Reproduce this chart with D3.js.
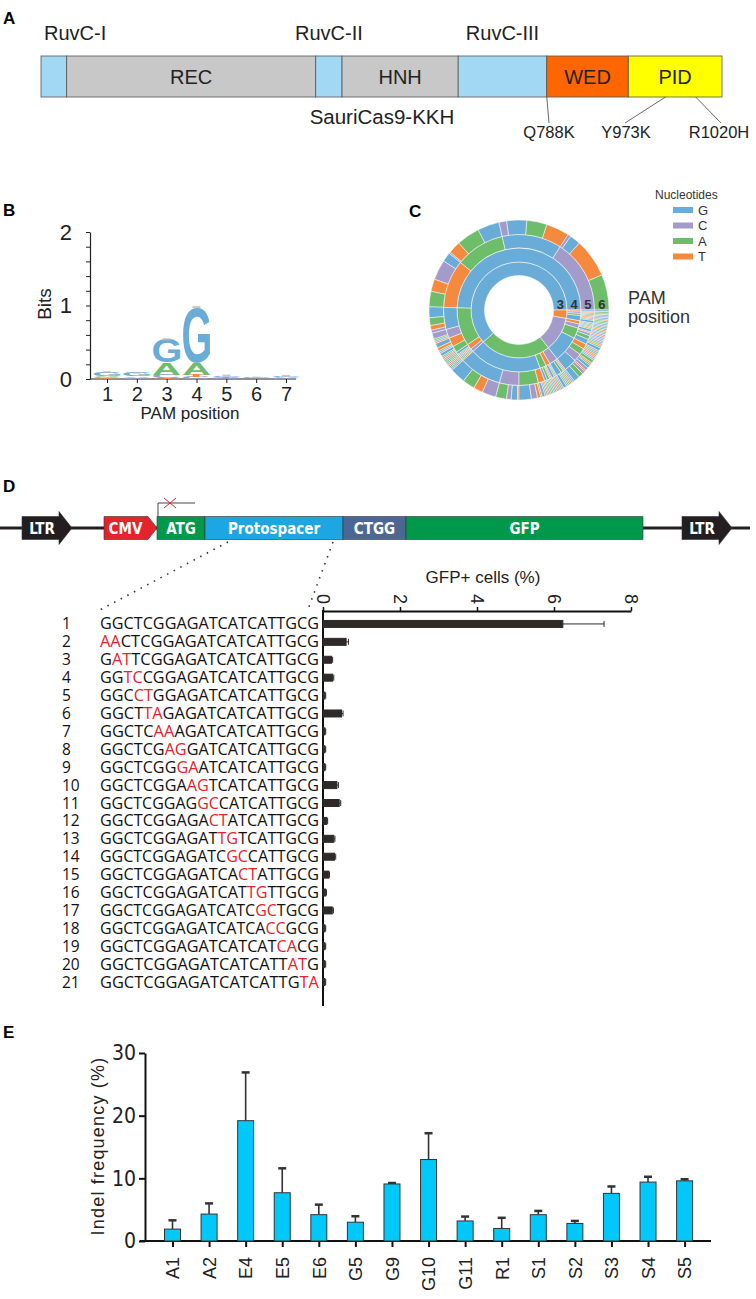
<!DOCTYPE html>
<html>
<head>
<meta charset="utf-8">
<script src="https://cdn.jsdelivr.net/npm/d3@7"></script>
<style>
  body { margin: 0; background: #fff; }
</style>
</head>
<body>
<div id="fig"></div>
<script>
var width = 756,
    height = 1299;

var arial = "'Liberation Sans', Arial, sans-serif",
    narrow = "'Liberation Sans Narrow', 'DejaVu Sans Condensed', sans-serif",
    seqFont = "'Open Sans', 'Noto Sans', sans-serif";

var ntColour = {G: '#69acd8', C: '#a39ccb', A: '#6dbd6a', T: '#f58a3e'};

/* ---------- data ---------- */

// A: domain map (residue ranges, SauriCas9 ~1061 aa)
var domainNames  = ['', 'REC', '', 'HNH', '', 'WED', 'PID'];
var domainStart  = [0, 40, 428, 469, 650, 788, 915];
var domainEnd    = [40, 428, 469, 650, 788, 915, 1061];
var domainFill   = ['#a3d8f4', '#c8c8c8', '#a3d8f4', '#c8c8c8', '#a3d8f4', '#ff6600', '#ffff00'];
var ruvcNames    = ['RuvC-I', 'RuvC-II', 'RuvC-III'];
var ruvcIndex    = [0, 2, 4];
var mutations    = ['Q788K', 'Y973K', 'R1020H'];
var mutationSite = [788, 973, 1020];

// B: sequence logo, bits per nucleotide at PAM positions 1-7
var logoPositions = [1, 2, 3, 4, 5, 6, 7];
var bitsG = [0.05, 0.05, 0.32, 0.76, 0.02, 0.01, 0.02];
var bitsC = [0.015, 0.01, 0.05, 0.03, 0.01, 0.005, 0.01];
var bitsA = [0.02, 0.02, 0.16, 0.16, 0.01, 0.005, 0.01];
var bitsT = [0.01, 0.005, 0.01, 0.03, 0.01, 0.002, 0.005];
var bitsErr = [0.012, 0.012, 0.015, 0.015, 0.01, 0.01, 0.01];

// C: PAM positions 3-6 and their share (degrees of the sunburst)
var pamSeqs = [
  'GGCA','GGCT','GGCG','GGCC', 'GGGT','GGGA','GGGG','GGGC', 'GGAG','GGAA','GGAT','GGAC',
  'GGTG','GGTC','GGTT','GGTA', 'GAGG','GAGA','GAGT','GAGC', 'GACC','GACA','GACG','GACT',
  'GATG','GATT','GATA','GATC', 'GAAG','GAAA','GAAC','GAAT', 'GTGG','GTGA','GTAA','GTCC','GTTT',
  'GCGG','GCAA','GCTC',
  'AGGG','AGGA','AGGT','AGGC', 'AGCA','AGCC','AGCG','AGCT', 'AGAG','AGAC','AGAT','AGAA',
  'AGTC','AGTG','AGTA','AGTT', 'AAGG','AAGA','AAAA','AAAC','AACG','AATT',
  'ATGG','ATGT','ATAA','ATCC', 'ACGG','ACGA','ACGC','ACAA','ACAT','ACCG','ACTG',
  'CGGG','CGGA','CGGC','CGGT','CGCC','CGCG','CGCA','CGCT','CGAA','CGAG','CGAC','CGAT',
  'CGTT','CGTG','CGTA','CGTC', 'CAGG','CAGA','CAGT','CAAA','CAAG','CAAC','CACC','CACG','CATT',
  'CCGG','CCGC','CCAA','CCTT', 'CTGG','CTAA','CTCC',
  'TGGG','TGGA','TGAA','TGCT','TGTG','TAGG','TAAT','TCGC','TCTA','TTGG'];
var pamCounts = [
  23,25,7,2, 15,13,13,5, 14,15,8,1,
  6,13,8,10, 7,5,3,2, 4,1,1,1,
  3,2,1,1, 2,1,1,1, 1,1,1,1,1,
  1,1,1,
  10,8,6,9, 7,3,4,1, 8,4,2,1,
  2,1,1,1, 1,1,1,1,1,1,
  1,1,1,1, 2,1,1,1,1,1,1,
  4,3,2,1,2,2,1,1,2,1,1,1,
  1,1,1,1, 2,1,1,1,1,1,1,1,1,
  1,1,1,1, 1,1,1,
  1,1,1,1,1,1,1,1,1,1];
var nucleotides = ['G', 'C', 'A', 'T'];

// D: reporter construct and GFP+ cells
var partNames  = ['LTR', 'CMV', 'ATG', 'Protospacer', 'CTGG', 'GFP', 'LTR'];
var partStart  = [22, 104, 157, 205, 343, 406, 682];
var partEnd    = [72, 157, 205, 343, 406, 643, 732];
var partFill   = ['#231f20', '#e3242b', '#00994c', '#1ea6e2', '#4d6795', '#00994c', '#231f20'];
var partShape  = ['arrow', 'arrow', 'box', 'box', 'box', 'box', 'arrow'];

var spacers = [
  'GGCTCGGAGATCATCATTGCG', 'AACTCGGAGATCATCATTGCG', 'GATTCGGAGATCATCATTGCG',
  'GGTCCGGAGATCATCATTGCG', 'GGCCTGGAGATCATCATTGCG', 'GGCTTAGAGATCATCATTGCG',
  'GGCTCAAAGATCATCATTGCG', 'GGCTCGAGGATCATCATTGCG', 'GGCTCGGGAATCATCATTGCG',
  'GGCTCGGAAGTCATCATTGCG', 'GGCTCGGAGGCCATCATTGCG', 'GGCTCGGAGACTATCATTGCG',
  'GGCTCGGAGATTGTCATTGCG', 'GGCTCGGAGATCGCCATTGCG', 'GGCTCGGAGATCACTATTGCG',
  'GGCTCGGAGATCATTGTTGCG', 'GGCTCGGAGATCATCGCTGCG', 'GGCTCGGAGATCATCACCGCG',
  'GGCTCGGAGATCATCATCACG', 'GGCTCGGAGATCATCATTATG', 'GGCTCGGAGATCATCATTGTA'];
var gfpMean = [6.23, 0.6, 0.22, 0.25, 0.05, 0.48, 0.05, 0.05, 0.05, 0.36, 0.42,
               0.1, 0.28, 0.3, 0.15, 0.07, 0.24, 0.05, 0.05, 0.05, 0.05];
var gfpErr  = [1.07, 0.06, 0.03, 0.03, 0.02, 0.04, 0.02, 0.02, 0.02, 0.04, 0.04,
               0.02, 0.03, 0.03, 0.02, 0.02, 0.03, 0.02, 0.02, 0.02, 0.02];
var gfpTicks = [0, 2, 4, 6, 8];

// E: indel frequency at endogenous sites
var sites     = ['A1','A2','E4','E5','E6','G5','G9','G10','G11','R1','S1','S2','S3','S4','S5'];
var indelMean = [1.9, 4.3, 19.2, 7.7, 4.2, 3.0, 9.1, 13.0, 3.2, 2.0, 4.2, 2.8, 7.6, 9.4, 9.6];
var indelErr  = [1.4, 1.7, 7.7, 3.9, 1.6, 0.95, 0.15, 4.2, 0.7, 1.7, 0.6, 0.4, 1.1, 0.85, 0.25];

/* ---------- svg ---------- */

var svg = d3.select('#fig').append('svg')
    .attr('width', width)
    .attr('height', height)
    .style('font-family', arial);

svg.append('rect').attr('width', width).attr('height', height).attr('fill', '#fff');

function panelLabel(t, x, y) {
  svg.append('text').attr('x', x).attr('y', y).text(t)
    .attr('font-weight', 'bold').attr('font-size', 17);
}

panelLabel('A', 3, 24);
panelLabel('B', 3, 216);
panelLabel('C', 409, 217);
panelLabel('D', 3, 492);
panelLabel('E', 3, 1038);

/* ---------- A ---------- */

var gA = svg.append('g');
var xRes = d3.scaleLinear().domain([0, 1061]).range([41, 722]);
var barTop = 56, barBot = 97;

gA.selectAll('rect.dom')
  .data(domainNames)
  .join('rect')
    .attr('x', function(d, i) { return xRes(domainStart[i]); })
    .attr('y', barTop)
    .attr('width', function(d, i) { return xRes(domainEnd[i]) - xRes(domainStart[i]); })
    .attr('height', barBot - barTop)
    .attr('fill', function(d, i) { return domainFill[i]; })
    .attr('stroke', '#555')
    .attr('stroke-width', 0.8);

gA.selectAll('text.dom')
  .data(domainNames.filter(function(d) { return d; }))
  .join('text')
    .attr('x', function(d) {
      var i = domainNames.indexOf(d);
      return (xRes(domainStart[i]) + xRes(domainEnd[i])) / 2;
    })
    .attr('y', 84)
    .attr('text-anchor', 'middle')
    .attr('font-size', 20)
    .attr('fill', '#222')
    .text(function(d) { return d; });

gA.selectAll('text.ruvc')
  .data(ruvcNames)
  .join('text')
    .attr('x', function(d, i) {
      var k = ruvcIndex[i];
      return i === 0 ? xRes(domainStart[k]) + 3 : (xRes(domainStart[k]) + xRes(domainEnd[k])) / 2;
    })
    .attr('y', 40)
    .attr('text-anchor', function(d, i) { return i === 0 ? 'start' : 'middle'; })
    .attr('font-size', 20)
    .attr('fill', '#222')
    .text(function(d) { return d; });

gA.append('text')
  .attr('x', 382).attr('y', 124)
  .attr('text-anchor', 'middle')
  .attr('font-size', 20.5)
  .attr('fill', '#222')
  .text('SauriCas9-KKH');

var mutLabelX = [549, 626, 719];
mutations.forEach(function(m, i) {
  var x0 = xRes(mutationSite[i]);
  gA.append('line')
    .attr('x1', x0).attr('y1', barBot)
    .attr('x2', mutLabelX[i] + (i === 1 ? -1 : (i === 2 ? 2 : 0))).attr('y2', 123)
    .attr('stroke', '#444').attr('stroke-width', 0.8);
  gA.append('text')
    .attr('x', mutLabelX[i]).attr('y', 138)
    .attr('text-anchor', 'middle')
    .attr('font-size', 16.5)
    .attr('fill', '#222')
    .text(m);
});

/* ---------- B : sequence logo ---------- */

var gB = svg.append('g');
var xLogo = d3.scalePoint().domain(logoPositions).range([107, 286]);
var yLogo = d3.scaleLinear().domain([0, 2]).range([379, 232]);

gB.append('g')
  .attr('transform', 'translate(90,0)')
  .call(d3.axisLeft(yLogo)
    .tickValues(d3.range(0, 11).map(function(i) { return i * 0.2; }))
    .tickSize(4).tickSizeOuter(0).tickPadding(14)
    .tickFormat(function(d) { return Math.abs(d - Math.round(d)) < 1e-6 ? d3.format('d')(d) : ''; }))
  .call(function(g) {
    g.select('.domain').attr('stroke', '#222').attr('stroke-width', 1.2);
    g.selectAll('line').attr('stroke', '#222');
    g.selectAll('text').filter(function() { return this.textContent === ''; }).remove();
    g.selectAll('text').attr('font-size', 22).attr('fill', '#222').style('font-family', arial);
  });

gB.append('line')
  .attr('x1', 90).attr('x2', 296).attr('y1', yLogo(0)).attr('y2', yLogo(0))
  .attr('stroke', '#222').attr('stroke-width', 1.2);

gB.append('g')
  .attr('transform', 'translate(0,' + yLogo(0) + ')')
  .call(d3.axisBottom(xLogo).tickSize(4).tickPadding(4))
  .call(function(g) {
    g.select('.domain').remove();
    g.selectAll('line').attr('stroke', '#222');
    g.selectAll('text').attr('font-size', 20).attr('fill', '#222').style('font-family', arial);
  });

gB.append('text')
  .attr('transform', 'translate(51,304) rotate(-90)')
  .attr('text-anchor', 'middle')
  .attr('font-size', 19).attr('fill', '#222')
  .text('Bits');

gB.append('text')
  .attr('x', 190).attr('y', 419)
  .attr('text-anchor', 'middle')
  .attr('font-size', 17).attr('fill', '#222')
  .text('PAM position');

// glyph ink bounds from a canvas
var mctx = document.createElement('canvas').getContext('2d');
mctx.font = 'bold 100px ' + arial;
var glyph = {};
nucleotides.forEach(function(n) {
  var m = mctx.measureText(n);
  glyph[n] = {l: m.actualBoundingBoxLeft, r: m.actualBoundingBoxRight,
              a: m.actualBoundingBoxAscent, d: m.actualBoundingBoxDescent};
});

var bitsBy = {G: bitsG, C: bitsC, A: bitsA, T: bitsT};
var letterW = 27;
logoPositions.forEach(function(p, i) {
  var stack = nucleotides.map(function(n) { return {n: n, v: bitsBy[n][i]}; })
    .sort(function(a, b) { return a.v - b.v; });
  var cum = 0;
  var xc = xLogo(p);
  stack.forEach(function(s) {
    if (s.v <= 0) return;
    var yb = yLogo(cum), yt = yLogo(cum + s.v);
    var gm = glyph[s.n];
    var sx = letterW / (gm.l + gm.r), sy = (yb - yt) / (gm.a + gm.d);
    gB.append('text')
      .attr('transform', 'translate(' + (xc - letterW / 2) + ',' + yb + ') scale(' + sx + ',' + sy + ') translate(' + gm.l + ',' + (-gm.d) + ')')
      .attr('font-size', 100).attr('font-weight', 'bold')
      .attr('fill', ntColour[s.n])
      .text(s.n);
    cum += s.v;
  });
  // error bar
  gB.append('rect')
    .attr('x', xc - 4).attr('width', 8)
    .attr('y', yLogo(cum + bitsErr[i])).attr('height', Math.max(1.5, yLogo(cum - bitsErr[i]) - yLogo(cum + bitsErr[i])))
    .attr('fill', '#bbb').attr('opacity', 0.8);
});

/* ---------- C : sunburst ---------- */

var gC = svg.append('g').attr('transform', 'translate(519,310)');

var tree = {name: 'root', children: []};
pamSeqs.forEach(function(s, i) {
  var node = tree;
  for (var k = 0; k < s.length; k++) {
    var child = node.children.find(function(c) { return c.name === s[k]; });
    if (!child) { child = {name: s[k], children: []}; node.children.push(child); }
    node = child;
  }
  node.value = pamCounts[i];
});

var rootC = d3.hierarchy(tree).sum(function(d) { return d.value || 0; });
d3.partition().size([2 * Math.PI, 5])(rootC);

var ringR = [0, 34.5, 48, 62, 75.5, 90];
var arcC = d3.arc()
  .startAngle(function(d) { return Math.PI / 2 - d.x1; })
  .endAngle(function(d) { return Math.PI / 2 - d.x0; })
  .innerRadius(function(d) { return ringR[d.depth]; })
  .outerRadius(function(d) { return ringR[d.depth + 1]; });

gC.selectAll('path')
  .data(rootC.descendants().filter(function(d) { return d.depth > 0; }))
  .join('path')
    .attr('d', arcC)
    .attr('fill', function(d) { return ntColour[d.data.name]; })
    .attr('stroke', '#fff')
    .attr('stroke-width', 0.5);

var ringLabels = ['3', '4', '5', '6'];
gC.selectAll('text.ring')
  .data(ringLabels)
  .join('text')
    .attr('x', function(d, i) { return (ringR[i + 1] + ringR[i + 2]) / 2; })
    .attr('y', -1)
    .attr('text-anchor', 'middle')
    .attr('font-size', 13).attr('font-weight', 'bold')
    .attr('fill', '#333')
    .text(function(d) { return d; });

svg.append('text').attr('x', 628).attr('y', 304)
  .attr('font-size', 18).attr('fill', '#333').text('PAM');
svg.append('text').attr('x', 628).attr('y', 323)
  .attr('font-size', 18).attr('fill', '#333').text('position');

var gLeg = svg.append('g');
gLeg.append('text').attr('x', 655).attr('y', 199)
  .attr('font-size', 12).attr('fill', '#333').text('Nucleotides');
nucleotides.forEach(function(n, i) {
  var yy = 210 + i * 15.5;
  gLeg.append('rect').attr('x', 673).attr('y', yy - 3).attr('width', 20).attr('height', 6)
    .attr('fill', ntColour[n]);
  gLeg.append('text').attr('x', 698).attr('y', yy + 4.5)
    .attr('font-size', 13).attr('fill', '#333').text(n);
});

/* ---------- D : construct ---------- */

var gD = svg.append('g');
var lineY = 528, boxH = 23;

gD.append('line')
  .attr('x1', 0).attr('x2', 750).attr('y1', lineY).attr('y2', lineY)
  .attr('stroke', '#231f20').attr('stroke-width', 3);

partNames.forEach(function(name, i) {
  var x0 = partStart[i], x1 = partEnd[i], y0 = lineY - boxH / 2, y1 = lineY + boxH / 2;
  var d;
  if (partShape[i] === 'arrow' && name === 'LTR') {
    var hx = x1 - 13;
    d = 'M' + x0 + ',' + y0 + 'H' + hx + 'V' + (y0 - 5) + 'L' + x1 + ',' + lineY +
        'L' + hx + ',' + (y1 + 5) + 'V' + y1 + 'H' + x0 + 'Z';
  } else if (partShape[i] === 'arrow') {
    var hx2 = x1 - 9;
    d = 'M' + x0 + ',' + y0 + 'H' + hx2 + 'L' + x1 + ',' + lineY + 'L' + hx2 + ',' + y1 + 'H' + x0 + 'Z';
  } else {
    d = 'M' + x0 + ',' + y0 + 'H' + x1 + 'V' + y1 + 'H' + x0 + 'Z';
  }
  gD.append('path').attr('d', d)
    .attr('fill', partFill[i])
    .attr('stroke', '#333').attr('stroke-width', 0.6);
  var cx = partShape[i] === 'arrow' ? (x0 + x1 - 10) / 2 : (x0 + x1) / 2;
  gD.append('text')
    .attr('x', cx).attr('y', lineY + 5.5)
    .attr('text-anchor', 'middle')
    .attr('font-size', 15).attr('font-weight', 'bold')
    .attr('fill', '#fff')
    .style('font-family', narrow)
    .text(name);
});

// promoter start with cross
gD.append('path')
  .attr('d', 'M158,' + (lineY - boxH / 2) + 'V503H195')
  .attr('fill', 'none').attr('stroke', '#333').attr('stroke-width', 0.9);
gD.append('path')
  .attr('d', 'M164,498L176,508M164,508L176,498')
  .attr('stroke', '#e3242b').attr('stroke-width', 1);

// dotted zoom lines
gD.append('line').attr('x1', 228).attr('y1', 542).attr('x2', 98).attr('y2', 611)
  .attr('stroke', '#333').attr('stroke-width', 1.6).attr('stroke-dasharray', '1.5,6');
gD.append('line').attr('x1', 333).attr('y1', 542).attr('x2', 307).attr('y2', 612)
  .attr('stroke', '#333').attr('stroke-width', 1.6).attr('stroke-dasharray', '1.5,6');

// GFP bar chart
var xGfp = d3.scaleLinear().domain([0, 8]).range([323, 631]);
var yRow = d3.scaleBand().domain(d3.range(spacers.length)).range([615, 991]);

gD.append('g')
  .attr('transform', 'translate(0,611)')
  .call(d3.axisTop(xGfp).tickValues(gfpTicks).tickSize(4).tickSizeOuter(0))
  .call(function(g) {
    g.select('.domain').attr('stroke', '#111').attr('stroke-width', 2);
    g.selectAll('line').attr('stroke', '#111').attr('stroke-width', 1.5);
    g.selectAll('text')
      .attr('font-size', 18).attr('fill', '#222')
      .attr('text-anchor', 'middle')
      .attr('dy', '0.35em')
      .attr('y', 0)
      .attr('transform', 'translate(0,-12) rotate(90)')
      .style('font-family', arial);
  });

gD.append('line')
  .attr('x1', 323).attr('x2', 323).attr('y1', 610).attr('y2', 1006)
  .attr('stroke', '#111').attr('stroke-width', 2);

gD.append('text')
  .attr('x', 483).attr('y', 583)
  .attr('text-anchor', 'middle')
  .attr('font-size', 17).attr('fill', '#222')
  .text('GFP+ cells (%)');

var rowH = 7;
gD.selectAll('rect.gfp')
  .data(gfpMean)
  .join('rect')
    .attr('x', xGfp(0))
    .attr('y', function(d, i) { return yRow(i) + yRow.bandwidth() / 2 - rowH / 2; })
    .attr('width', function(d) { return Math.max(1.5, xGfp(d) - xGfp(0)); })
    .attr('height', rowH)
    .attr('fill', '#2e2a29')
    .attr('stroke', '#2e2a29').attr('stroke-width', 1);

gfpMean.forEach(function(m, i) {
  var yc = yRow(i) + yRow.bandwidth() / 2;
  var xe = xGfp(m + gfpErr[i]);
  gD.append('line').attr('x1', xGfp(m)).attr('x2', xe).attr('y1', yc).attr('y2', yc)
    .attr('stroke', '#2e2a29').attr('stroke-width', 1);
  gD.append('line').attr('x1', xe).attr('x2', xe).attr('y1', yc - 3).attr('y2', yc + 3)
    .attr('stroke', '#2e2a29').attr('stroke-width', 1);
});

// spacer sequences with mismatches in red
var refSeq = spacers[0];
spacers.forEach(function(s, i) {
  var yb = yRow(i) + yRow.bandwidth() / 2 + 5.5;
  gD.append('text')
    .attr('x', 62).attr('y', yb)
    .attr('font-size', 15.5).attr('fill', '#111')
    .style('font-family', seqFont)
    .text(i + 1);
  var t = gD.append('text')
    .attr('x', 100).attr('y', yb)
    .attr('font-size', 15.5).attr('fill', '#111')
    .attr('textLength', 219).attr('lengthAdjust', 'spacingAndGlyphs')
    .style('font-family', seqFont);
  s.split('').forEach(function(c, k) {
    t.append('tspan')
      .attr('fill', c !== refSeq[k] ? '#e3242b' : '#111')
      .text(c);
  });
});

/* ---------- E : indel frequency ---------- */

var gE = svg.append('g');
var xSite = d3.scalePoint().domain(sites).range([172.5, 684.6]);
var yInd = d3.scaleLinear().domain([0, 30]).range([1241, 1053]);
var barW = 16;

gE.append('g')
  .attr('transform', 'translate(145,0)')
  .call(d3.axisLeft(yInd).tickValues([0, 10, 20, 30]).tickSize(6).tickSizeOuter(0).tickPadding(3))
  .call(function(g) {
    g.select('.domain').attr('stroke', '#111').attr('stroke-width', 2);
    g.selectAll('line').attr('stroke', '#111').attr('stroke-width', 2);
    g.selectAll('text').attr('font-size', 21).attr('fill', '#222').style('font-family', narrow);
  });

gE.append('line')
  .attr('x1', 140).attr('x2', 711).attr('y1', yInd(0)).attr('y2', yInd(0))
  .attr('stroke', '#111').attr('stroke-width', 2);

gE.append('g')
  .attr('transform', 'translate(0,' + yInd(0) + ')')
  .call(d3.axisBottom(xSite).tickSize(6).tickSizeOuter(0))
  .call(function(g) {
    g.select('.domain').remove();
    g.selectAll('line').attr('stroke', '#111').attr('stroke-width', 2);
    g.selectAll('text')
      .attr('font-size', 18).attr('fill', '#222')
      .attr('text-anchor', 'end')
      .attr('dy', '0.35em')
      .attr('y', 0)
      .attr('transform', 'translate(0,16) rotate(-90)')
      .style('font-family', arial);
  });

gE.append('text')
  .attr('transform', 'translate(104,1146) rotate(-90)')
  .attr('text-anchor', 'middle')
  .attr('font-size', 18).attr('fill', '#222')
  .attr('letter-spacing', 1.2)
  .text('Indel frequency (%)');

// error bars first (behind bars)
sites.forEach(function(s, i) {
  var xc = xSite(s);
  gE.append('line').attr('x1', xc).attr('x2', xc)
    .attr('y1', yInd(indelMean[i])).attr('y2', yInd(indelMean[i] + indelErr[i]))
    .attr('stroke', '#333').attr('stroke-width', 1.6);
  gE.append('line').attr('x1', xc - 4).attr('x2', xc + 4)
    .attr('y1', yInd(indelMean[i] + indelErr[i])).attr('y2', yInd(indelMean[i] + indelErr[i]))
    .attr('stroke', '#333').attr('stroke-width', 2.5);
});

gE.selectAll('rect.bar')
  .data(sites)
  .join('rect')
    .attr('x', function(d) { return xSite(d) - barW / 2; })
    .attr('y', function(d, i) { return yInd(indelMean[i]); })
    .attr('width', barW)
    .attr('height', function(d, i) { return yInd(0) - yInd(indelMean[i]); })
    .attr('fill', '#00c8fa')
    .attr('stroke', '#333')
    .attr('stroke-width', 1);
</script>
</body>
</html>
